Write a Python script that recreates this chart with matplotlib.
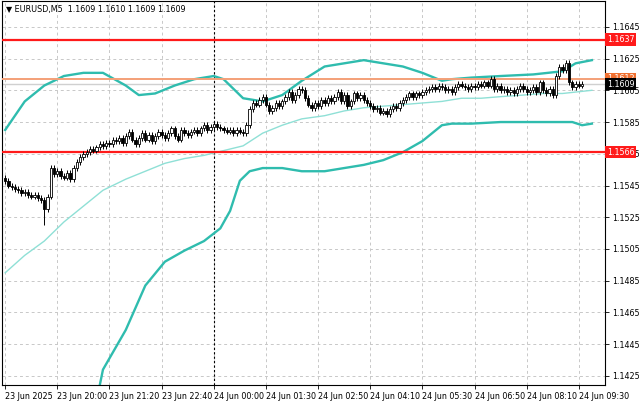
import matplotlib
matplotlib.use("Agg")
import matplotlib.pyplot as plt
import numpy as np

closes = [1.1548,1.1545,1.1544,1.1543,
 1.1542,1.1540,1.1541,1.1539,1.1538,1.1539,1.1537,
 1.1536,1.1530,1.1538,
 1.1556,1.1552,1.1554,1.1551,1.1550,1.1553,1.1549,
 1.1556,1.1560,1.1563,1.1565,1.1566,1.1568,
 1.1567,1.1569,1.1571,1.1570,1.1572,1.1571,1.1574,1.1573,1.1575,
 1.1572,1.1576,1.1579,1.1574,1.1571,1.1575,1.1578,1.1574,1.1577,1.1573,
 1.1576,1.1579,1.1577,1.1575,1.1578,1.1581,1.1576,1.1574,1.1580,1.1578,
 1.1577,1.1579,1.1580,1.1578,1.1581,1.1583,1.1580,1.1582,1.1584,1.1582,
 1.1581,1.1580,1.1579,1.1580,1.1578,1.1580,1.1579,
 1.1578,1.1583,1.1593,1.1597,1.1596,1.1599,1.1601,
 1.1596,1.1592,1.1594,1.1597,1.1595,1.1598,1.1601,1.1604,1.1599,1.1602,1.1606,
 1.1605,1.1600,1.1596,1.1594,1.1597,1.1595,1.1599,1.1597,1.1600,1.1598,
 1.1601,1.1604,1.1598,1.1602,1.1595,1.1598,1.1603,1.1600,1.1602,1.1599,
 1.1597,1.1595,1.1593,1.1594,1.1591,1.1592,1.1590,1.1593,1.1595,1.1594,
 1.1597,1.1599,1.1601,1.1603,1.1601,1.1603,1.1602,1.1604,1.1605,1.1606,
 1.1607,1.1606,1.1608,1.1607,1.1605,1.1606,1.1604,1.1607,1.1609,1.1608,
 1.1607,1.1606,1.1608,1.1607,1.1609,1.1608,1.1610,1.1608,1.1612,1.1606,
 1.1608,1.1605,1.1606,1.1604,1.1605,1.1603,1.1606,1.1608,1.1606,1.1604,
 1.1605,1.1607,1.1604,1.1610,1.1605,1.1603,1.1606,1.1602,1.1614,1.1620,
 1.1618,1.1622,1.1610,1.1607,1.1609,1.1608,1.1609]
first_open = 1.1550

upper_bars = [0,6,12,18,24,30,37,41,46,52,58,64,67,70,73,79,85,91,98,104,110,116,122,128,134,137,143,152,162,171,175,180]
upper_vals = [1.1580,1.1598,1.1608,1.1614,1.1616,1.1616,1.1608,1.1602,1.1603,1.1608,1.1612,1.1614,1.1612,1.1606,
              1.1600,1.1598,1.1602,1.1611,1.1620,1.1622,1.1624,1.1622,1.1620,1.1616,1.1611,1.1612,1.1613,1.1614,
              1.1615,1.1617,1.1622,1.1624]
lower_bars = [29,30,37,43,49,55,61,66,69,72,75,79,85,91,98,104,110,116,122,128,134,137,143,152,162,171,174,177,180]
lower_vals = [1.1419,1.1429,1.1454,1.1482,1.1497,1.1504,1.1510,1.1518,1.1529,1.1548,1.1554,1.1556,1.1556,1.1554,
              1.1554,1.1556,1.1558,1.1561,1.1566,1.1573,1.1583,1.1584,1.1584,1.1585,1.1585,1.1585,1.1585,1.1583,1.1584]
ma_bars = [0,6,12,18,24,30,37,43,49,55,61,67,73,79,85,91,98,104,110,116,122,128,134,140,146,152,159,165,171,180]
ma_vals = [1.1490,1.1501,1.1510,1.1522,1.1532,1.1542,1.1549,1.1554,1.1559,1.1562,1.1564,1.1567,1.1570,1.1578,
           1.1583,1.1587,1.1589,1.1592,1.1594,1.1595,1.1596,1.1597,1.1598,1.1600,1.1600,1.1601,1.1602,1.1603,1.1603,1.1605]

tick_bars = [0,16,32,48,64,80,96,112,128,144,160,176]
tick_labels = ["23 Jun 2025","23 Jun 20:00","23 Jun 21:20","23 Jun 22:40","24 Jun 00:00","24 Jun 01:30",
               "24 Jun 02:50","24 Jun 04:10","24 Jun 05:30","24 Jun 06:50","24 Jun 08:10","24 Jun 09:30"]
price_ticks = [1.1425,1.1445,1.1465,1.1485,1.1505,1.1525,1.1545,1.1565,1.1585,1.1605,1.1625,1.1645]
levels_red = [1.1637,1.1566]
level_orange = 1.1612
bid = 1.1609

fig = plt.figure(figsize=(6.4,4.01), dpi=100)
ax = fig.add_axes([0.003, 16/401, 603/640, 1-16/401-0.002])
ymin, ymax = 1.14193, 1.16614
ax.set_xlim(-1, 184)
ax.set_ylim(ymin, ymax)

for yv in price_ticks:
    ax.axhline(yv, color="#c8c8c8", ls=(0,(3,3)), lw=0.7, zorder=0)
for xb in tick_bars:
    ax.axvline(xb, color="#c8c8c8", ls=(0,(3,3)), lw=0.7, zorder=0)
ax.axvline(64, color="black", ls=(0,(2,2)), lw=0.8, zorder=1)

ax.plot(ma_bars, ma_vals, color="#8fe0d6", lw=1, zorder=2)
ax.plot(upper_bars, upper_vals, color="#2fbcae", lw=1.7, zorder=2, solid_joinstyle="round")
ax.plot(lower_bars, lower_vals, color="#2fbcae", lw=1.7, zorder=2, solid_joinstyle="round")

for yv in levels_red:
    ax.axhline(yv, color="#ff1a1a", lw=1.6, zorder=3)
ax.axhline(level_orange, color="#f4a078", lw=1.4, zorder=3)
ax.axhline(bid, color="#d0d0d0", lw=1, zorder=1)

opens = [first_open] + closes[:-1]
wick = 0.00018
for i,(o,c) in enumerate(zip(opens, closes)):
    hi = max(o,c)+wick; lo = min(o,c)-wick
    if i == 12: lo = 1.1520
    ax.vlines(i, lo, hi, color="black", lw=0.7, zorder=4)
    bottom = min(o,c); h = max(abs(c-o), 0.00004)
    ax.bar(i, h, bottom=bottom, width=0.7, color="white" if c>=o else "black",
           edgecolor="black", lw=0.6, zorder=5)

ax.set_xticks(tick_bars)
ax.set_xticklabels(tick_labels, ha="left", fontsize=5.8)
ax.yaxis.tick_right()
ax.set_yticks(price_ticks)
ax.set_yticklabels([f"{p:.4f}" for p in price_ticks], fontsize=5.8)
ax.tick_params(length=3, width=0.6, pad=2)
for s in ax.spines.values():
    s.set_linewidth(0.8)

def tag(y, txt, fc, tc):
    ax.text(1.003, y, txt, transform=ax.get_yaxis_transform(), fontsize=5.8, color=tc,
            va="center", ha="left", bbox=dict(boxstyle="square,pad=0.2", fc=fc, ec="none"), zorder=10, clip_on=False)
tag(1.1637, "1.1637", "#ff1a1a", "white")
tag(1.1566, "1.1566", "#ff1a1a", "white")
tag(level_orange+0.00003, "1.1612", "#f07030", "white")
tag(bid-0.00002, "1.1609", "black", "white")

ax.text(0.006, 0.99, "\u25bc EURUSD,M5  1.1609 1.1610 1.1609 1.1609", transform=ax.transAxes,
        fontsize=5.8, va="top", ha="left")

fig.savefig("out.png", dpi=100)
